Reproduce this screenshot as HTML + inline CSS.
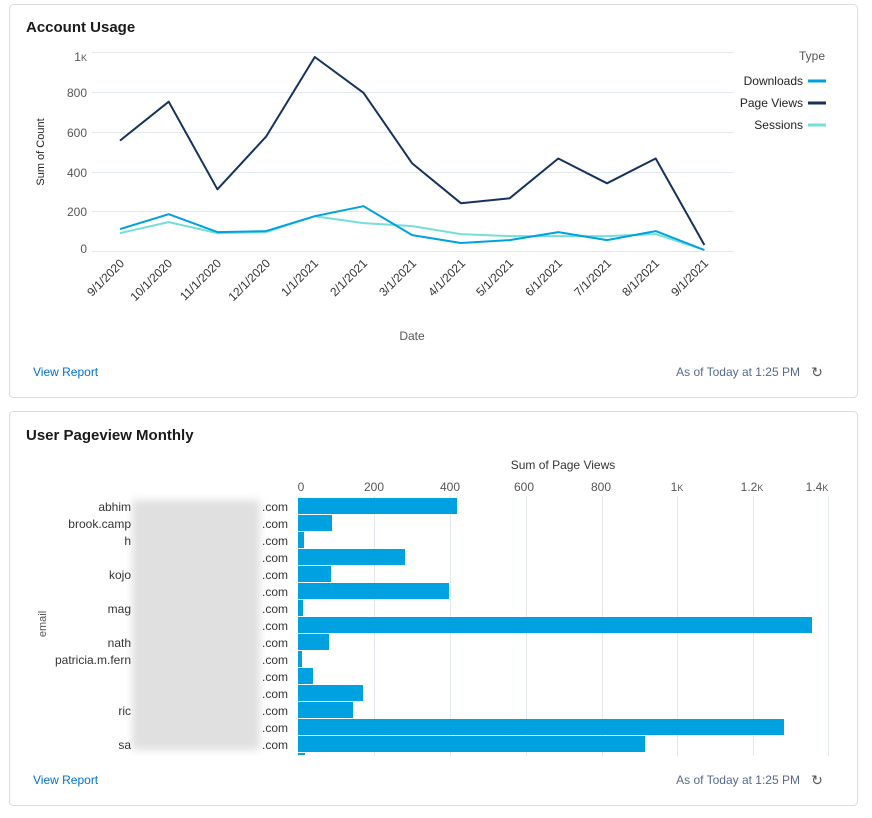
<!DOCTYPE html>
<html><head><meta charset="utf-8"><style>
body{margin:0;background:#fff;font-family:"Liberation Sans",Arial,sans-serif;}
svg text{font-family:"Liberation Sans",Arial,sans-serif;}
</style></head><body>
<svg width="872" height="813" xmlns="http://www.w3.org/2000/svg">
<defs><filter id="b" x="-10%" y="-10%" width="120%" height="120%"><feGaussianBlur stdDeviation="4"/></filter></defs>
<rect x="9.5" y="4.5" width="848" height="393" rx="4" fill="#fff" stroke="#dcdcdc"/>
<rect x="9.5" y="411.5" width="848" height="394" rx="4" fill="#fff" stroke="#dcdcdc"/>
<text x="26" y="32" font-size="15" font-weight="bold" fill="#1a1a1a">Account Usage</text>
<text x="26" y="440" font-size="15" font-weight="bold" fill="#1a1a1a">User Pageview Monthly</text>
<g stroke="#e3e8ee" stroke-width="1">
<line x1="92" x2="734" y1="52.5" y2="52.5"/><line x1="92" x2="734" y1="92.5" y2="92.5"/>
<line x1="92" x2="734" y1="132.5" y2="132.5"/><line x1="92" x2="734" y1="172.5" y2="172.5"/>
<line x1="92" x2="734" y1="211.5" y2="211.5"/><line x1="92" x2="734" y1="251.5" y2="251.5"/>
</g>
<g font-size="12" fill="#555" text-anchor="end">
<text x="87" y="61">1<tspan font-size="9">K</tspan></text><text x="87" y="97">800</text><text x="87" y="137">600</text>
<text x="87" y="177">400</text><text x="87" y="216">200</text><text x="87" y="253">0</text>
</g>
<text transform="translate(44,152) rotate(-90)" font-size="11" fill="#222" text-anchor="middle">Sum of Count</text>
<g font-size="12" fill="#333" text-anchor="end">
<text transform="translate(125,264) rotate(-45)">9/1/2020</text>
<text transform="translate(173,264) rotate(-45)">10/1/2020</text>
<text transform="translate(222,264) rotate(-45)">11/1/2020</text>
<text transform="translate(271,264) rotate(-45)">12/1/2020</text>
<text transform="translate(319,264) rotate(-45)">1/1/2021</text>
<text transform="translate(368,264) rotate(-45)">2/1/2021</text>
<text transform="translate(417,264) rotate(-45)">3/1/2021</text>
<text transform="translate(466,264) rotate(-45)">4/1/2021</text>
<text transform="translate(514,264) rotate(-45)">5/1/2021</text>
<text transform="translate(563,264) rotate(-45)">6/1/2021</text>
<text transform="translate(612,264) rotate(-45)">7/1/2021</text>
<text transform="translate(660,264) rotate(-45)">8/1/2021</text>
<text transform="translate(709,264) rotate(-45)">9/1/2021</text>
</g>
<text x="412" y="340" font-size="12" fill="#555" text-anchor="middle">Date</text>
<g fill="none" stroke-width="2" stroke-linejoin="round">
<polyline stroke="#76ded9" points="120,233.1 168.7,222.1 217.4,233.1 266.1,232.1 314.8,216.2 363.5,223.1 412.2,226.1 460.9,234.1 509.6,236.1 558.3,236.1 607,236.1 655.7,234.1 704.4,250"/>
<polyline stroke="#00a1e0" points="120,229.1 168.7,214.2 217.4,232.1 266.1,231.1 314.8,216.2 363.5,206.2 412.2,235.1 460.9,243 509.6,240.1 558.3,232.1 607,240.1 655.7,231.1 704.4,250"/>
<polyline stroke="#16325c" points="120,140.6 168.7,101.7 217.4,189.3 266.1,136.6 314.8,57 363.5,92.8 412.2,163.4 460.9,203.2 509.6,198.3 558.3,158.5 607,183.3 655.7,158.5 704.4,245"/>
</g>
<text x="825" y="60" font-size="12" fill="#555" text-anchor="end">Type</text>
<g font-size="12" fill="#222" text-anchor="end">
<text x="803" y="85">Downloads</text><text x="803" y="107">Page Views</text><text x="803" y="129">Sessions</text>
</g>
<line x1="808" x2="826" y1="81" y2="81" stroke="#00a1e0" stroke-width="3"/>
<line x1="808" x2="826" y1="103" y2="103" stroke="#16325c" stroke-width="3"/>
<line x1="808" x2="826" y1="125" y2="125" stroke="#76ded9" stroke-width="3"/>
<text x="33" y="376" font-size="12" fill="#0070d2">View Report</text>
<text x="800" y="376" font-size="12" fill="#54698d" text-anchor="end">As of Today at 1:25 PM</text>
<text x="817" y="377" font-size="14" fill="#555" text-anchor="middle">↻</text>
<text x="563" y="469" font-size="12" fill="#333" text-anchor="middle">Sum of Page Views</text>
<g font-size="12" fill="#555" text-anchor="middle">
<text x="301" y="491">0</text><text x="374" y="491">200</text><text x="450" y="491">400</text><text x="524" y="491">600</text>
<text x="601" y="491">800</text><text x="677" y="491">1<tspan font-size="9">K</tspan></text><text x="752" y="491">1.2<tspan font-size="9">K</tspan></text><text x="817" y="491">1.4<tspan font-size="9">K</tspan></text>
</g>
<g stroke="#e3e8ee"><line x1="374.5" x2="374.5" y1="496" y2="756"/><line x1="450.5" x2="450.5" y1="496" y2="756"/><line x1="526.5" x2="526.5" y1="496" y2="756"/><line x1="602.5" x2="602.5" y1="496" y2="756"/><line x1="677.5" x2="677.5" y1="496" y2="756"/><line x1="753.5" x2="753.5" y1="496" y2="756"/><line x1="828.5" x2="828.5" y1="496" y2="756"/><line x1="298.5" x2="298.5" y1="496" y2="756"/></g>
<g fill="#00a1e0">
<rect x="298" y="498" width="159" height="16"/><rect x="298" y="515" width="34" height="16"/><rect x="298" y="532" width="6" height="16"/>
<rect x="298" y="549" width="107" height="16"/><rect x="298" y="566" width="33" height="16"/><rect x="298" y="583" width="151" height="16"/>
<rect x="298" y="600" width="5" height="16"/><rect x="298" y="617" width="514" height="16"/><rect x="298" y="634" width="31" height="16"/>
<rect x="298" y="651" width="4" height="16"/><rect x="298" y="668" width="15" height="16"/><rect x="298" y="685" width="65" height="16"/>
<rect x="298" y="702" width="55" height="16"/><rect x="298" y="719" width="486" height="16"/><rect x="298" y="736" width="347" height="16"/>
<rect x="298" y="753" width="7" height="2"/>
</g>
<rect x="132" y="500" width="128" height="250" fill="#e0e0e0" filter="url(#b)"/>
<g font-size="12" fill="#333" text-anchor="end">
<text x="288" y="511">.com</text><text x="288" y="528">.com</text><text x="288" y="545">.com</text><text x="288" y="562">.com</text>
<text x="288" y="579">.com</text><text x="288" y="596">.com</text><text x="288" y="613">.com</text><text x="288" y="630">.com</text>
<text x="288" y="647">.com</text><text x="288" y="664">.com</text><text x="288" y="681">.com</text><text x="288" y="698">.com</text>
<text x="288" y="715">.com</text><text x="288" y="732">.com</text><text x="288" y="749">.com</text>
<text x="131" y="511">abhim</text><text x="131" y="528">brook.camp</text><text x="131" y="545">h</text>
<text x="131" y="579">kojo</text><text x="131" y="613">mag</text><text x="131" y="647">nath</text>
<text x="131" y="664">patricia.m.fern</text><text x="131" y="715">ric</text><text x="131" y="749">sa</text>
</g>
<text transform="translate(46,624) rotate(-90)" font-size="11" fill="#555" text-anchor="middle">email</text>
<text x="33" y="784" font-size="12" fill="#0070d2">View Report</text>
<text x="800" y="784" font-size="12" fill="#54698d" text-anchor="end">As of Today at 1:25 PM</text>
<text x="817" y="785" font-size="14" fill="#555" text-anchor="middle">↻</text>
</svg>
</body></html>
